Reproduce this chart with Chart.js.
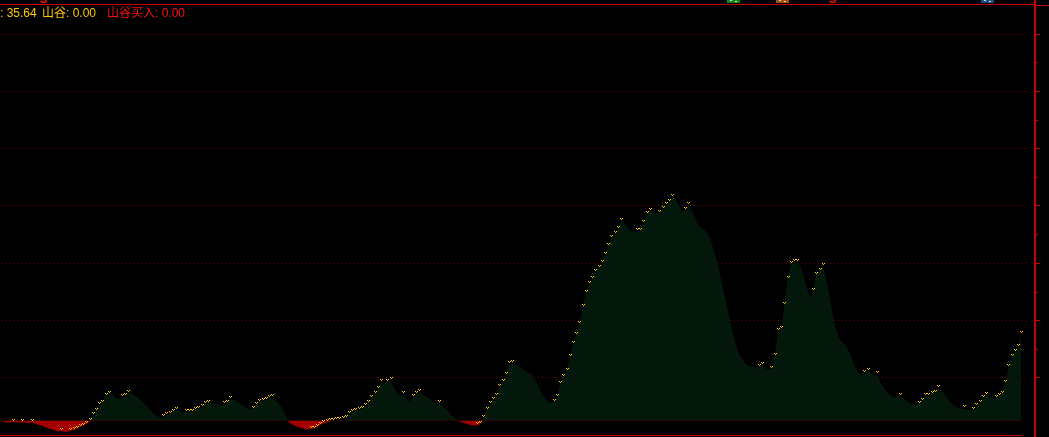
<!DOCTYPE html>
<html>
<head>
<meta charset="utf-8">
<script src="https://cdn.jsdelivr.net/npm/chart.js@4"></script>
<style>
  html, body { margin: 0; padding: 0; background: #000; }
  #wrap { position: relative; width: 1049px; height: 437px; }
</style>
</head>
<body>
<div id="wrap"><canvas id="c" width="1049" height="437"></canvas></div>
<script>
// valley indicator, one value per bar
const values = [
  1.0, -0.4, -0.8, -0.8, -0.6, -0.7, -0.8, -0.7, -0.8, -1.2,
  -0.6, -1.4, -1.7, -2.1, -2.7, -3.1, -3.6, -4.0, -4.5, -4.3,
  -4.6, -4.6, -4.2, -4.0, -3.3, -2.7, -2.1, -1.4, -0.4, 2.3,
  3.9, 6.4, 7.2, 10.1, 11.1, 10.9, 9.3, 9.1, 9.5, 10.2,
  11.5, 11.3, 10.3, 9.5, 8.2, 7.0, 5.9, 4.1, 2.7, 1.9,
  1.2, 1.3, 2.1, 2.7, 3.5, 4.3, 3.9, 3.3, 3.5, 3.6,
  3.7, 4.3, 4.9, 5.6, 6.6, 7.3, 7.2, 6.8, 6.6, 6.2,
  6.6, 7.4, 8.9, 8.7, 7.6, 7.0, 6.2, 5.2, 4.7, 4.9,
  6.4, 7.8, 8.0, 8.3, 9.1, 9.5, 8.4, 7.0, 5.6, 3.1,
  -0.3, -1.4, -2.1, -2.7, -3.0, -3.5, -3.7, -3.5, -3.3, -2.7,
  -1.9, -1.2, -0.8, -0.4, -0.1, 0.1, 0.2, 0.8, 1.2, 2.7,
  3.5, 4.1, 4.2, 4.9, 5.8, 7.4, 9.1, 11.1, 12.8, 15.7,
  15.2, 15.9, 16.5, 13.6, 11.3, 10.1, 10.9, 8.9, 7.8, 9.5,
  11.1, 11.7, 10.7, 10.1, 9.3, 7.6, 7.1, 7.3, 6.2, 4.9,
  3.9, 2.3, 1.2, -0.2, -0.6, -1.0, -1.4, -1.8, -2.1, -2.0,
  -1.6, 1.0, 4.5, 7.0, 8.4, 10.1, 14.0, 15.7, 18.7, 23.1,
  23.5, 23.2, 22.9, 21.6, 20.6, 19.8, 19.2, 16.9, 14.8, 11.9,
  9.7, 7.8, 7.2, 7.8, 9.7, 15.0, 18.1, 20.6, 26.2, 31.7,
  35.4, 39.8, 46.6, 52.5, 56.4, 58.5, 61.2, 63.0, 64.7, 68.2,
  72.1, 75.4, 76.8, 78.9, 82.2, 81.4, 79.7, 78.1, 77.7, 77.9,
  78.1, 81.2, 85.1, 86.5, 85.9, 85.3, 85.6, 87.1, 88.8, 90.0,
  92.1, 91.3, 88.8, 86.3, 86.7, 88.8, 86.7, 83.8, 80.8, 79.3,
  78.5, 77.0, 74.6, 69.8, 65.7, 59.5, 53.4, 47.6, 41.4, 35.6,
  30.3, 27.0, 25.3, 23.3, 22.5, 22.0, 21.8, 22.2, 22.9, 21.6,
  21.0, 21.4, 26.6, 36.7, 37.7, 47.4, 58.5, 64.5, 65.3, 65.5,
  63.2, 59.5, 55.0, 50.5, 53.4, 59.9, 61.6, 63.7, 59.1, 52.5,
  44.7, 38.1, 34.0, 32.3, 31.3, 29.0, 25.8, 22.5, 20.0, 18.3,
  19.6, 20.6, 19.6, 18.3, 19.0, 15.5, 13.6, 11.7, 10.5, 9.7,
  9.7, 9.9, 9.5, 8.4, 7.4, 6.5, 6.4, 7.0, 8.2, 9.9,
  10.3, 11.1, 11.5, 13.6, 12.4, 10.9, 9.3, 7.4, 6.2, 5.4,
  4.9, 5.0, 4.5, 4.1, 4.3, 5.8, 7.2, 9.1, 10.5, 10.1,
  9.1, 9.3, 10.1, 11.1, 15.5, 22.0, 26.0, 28.4, 30.1, 35.64
];
// empty slots to the right of the last bar
const emptySlots = 4;
const labels = Array.from({ length: values.length + emptySlots }, (_, i) => i + 1);

// horizontal dotted grid levels and the axis range
const gridLevels = [17.9, 41.4, 65.0, 88.6, 112.2, 135.8, 159.4];
const yMin = -5.97;
const yMax = 171.2;

// header texts
const header = [
  { text: ": 35.64", x: 0, color: "#ffc800" },
  { text: "山谷: 0.00", x: 42, color: "#ffc800" },
  { text: "山谷买入: 0.00", x: 107, color: "#ff1010" },
];

const RED = "#c80000";
const GREEN_FILL = "#03180a";
const NEG_FILL = "#a50000";

const frame = {
  id: "frame",
  beforeDatasetsDraw(chart) {
    const { ctx, chartArea } = chart;
    const y = chart.scales.y;
    ctx.save();
    ctx.fillStyle = "#7a0000";
    gridLevels.forEach((v) => {
      const py = Math.round(y.getPixelForValue(v));
      for (let x = chartArea.left + 2; x < chartArea.right - 4; x += 4) {
        ctx.fillRect(x, py, 1, 1);
      }
    });
    ctx.restore();
  },
  afterDatasetsDraw(chart) {
    const { ctx, chartArea } = chart;
    const y = chart.scales.y;
    const meta = chart.getDatasetMeta(0);
    ctx.save();

    // small "v" marks on every rising bar
    meta.data.forEach((pt, i) => {
      if (i === 0 || values[i] <= values[i - 1]) return;
      const px = Math.round(pt.x) - 1;
      const py = Math.round(pt.y) - 3;
      ctx.fillStyle = "#ffd800";
      ctx.fillRect(px, py, 1, 1);
      ctx.fillRect(px + 2, py, 1, 1);
      ctx.fillStyle = "#ffa400";
      ctx.fillRect(px + 1, py + 1, 1, 1);
    });

    // frame lines
    ctx.fillStyle = RED;
    const last = meta.data[meta.data.length - 1];
    ctx.fillRect(0, 4, chartArea.right, 1);
    ctx.fillRect(chartArea.right, 0, 2, 437);
    ctx.fillRect(chartArea.right + 2, 5, 15, 1);
    ctx.fillRect(0, 435, Math.round(last.x) + 1, 1);

    // right axis ticks
    gridLevels.forEach((v) => {
      const py = Math.round(y.getPixelForValue(v));
      ctx.fillRect(chartArea.right + 2, py, 4, 1);
      const mid = v + (gridLevels[1] - gridLevels[0]) / 2;
      const pm = Math.round(y.getPixelForValue(mid));
      if (mid < yMax) ctx.fillRect(chartArea.right + 2, pm, 2, 1);
    });

    // header text
    ctx.font = '12px "Liberation Sans", "Noto Sans CJK SC", sans-serif';
    ctx.textBaseline = "alphabetic";
    header.forEach((h) => {
      ctx.fillStyle = h.color;
      ctx.fillText(h.text, h.x, 17);
    });

    // clipped icons along the top edge
    ctx.fillStyle = "#ff1010";
    ctx.font = 'bold 11px "Liberation Sans", sans-serif';
    ctx.fillText("S", 40, 3);
    ctx.fillText("S", 829, 3);
    [["#0f8a1a", 727], ["#a5520f", 776], ["#1a4f8a", 981]].forEach(([c, x]) => {
      ctx.fillStyle = c;
      ctx.fillRect(x, 0, 13, 3);
      ctx.fillStyle = "#dddddd";
      ctx.fillRect(x + 3, 0, 2, 1);
      ctx.fillRect(x + 8, 1, 2, 1);
    });
    ctx.restore();
  },
};

new Chart(document.getElementById("c"), {
  type: "line",
  data: {
    labels,
    datasets: [
      {
        data: values,
        borderWidth: 0,
        borderColor: "rgba(0,0,0,0)",
        pointRadius: 0,
        tension: 0,
        fill: { target: "origin", above: GREEN_FILL, below: NEG_FILL },
      },
    ],
  },
  options: {
    responsive: false,
    animation: false,
    devicePixelRatio: 1,
    layout: { padding: { left: 0, right: 15, top: 5, bottom: 2 } },
    plugins: { legend: { display: false }, tooltip: { enabled: false } },
    scales: {
      x: { display: false, offset: false },
      y: { display: false, min: yMin, max: yMax },
    },
  },
  plugins: [frame],
});
</script>
</body>
</html>
